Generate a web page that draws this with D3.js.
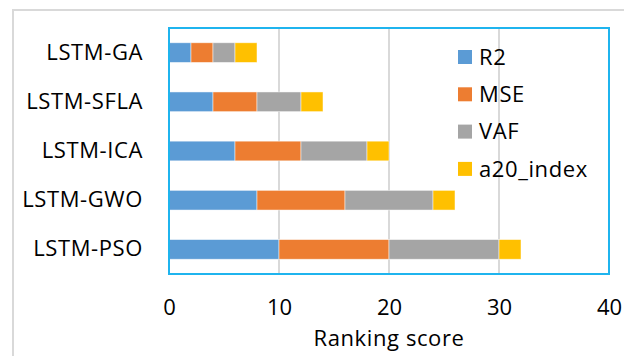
<!DOCTYPE html>
<html>
<head>
<meta charset="utf-8">
<script src="https://cdn.jsdelivr.net/npm/d3@7/dist/d3.min.js"></script>
<style>
  html, body { margin: 0; padding: 0; background: #fff; }
  svg { display: block; }
  text { font-family: "Open Sans", "Noto Sans", sans-serif; fill: #000; }
</style>
</head>
<body>
<svg id="chart" width="624" height="356"></svg>
<script>
// Ranking score components per model
const models = ["LSTM-GA", "LSTM-SFLA", "LSTM-ICA", "LSTM-GWO", "LSTM-PSO"];
const seriesNames = ["R2", "MSE", "VAF", "a20_index"];
const r2 = [2, 4, 6, 8, 10];
const mse = [2, 4, 6, 8, 10];
const vaf = [2, 4, 6, 8, 10];
const a20Index = [2, 2, 2, 2, 2];
const xTicks = [0, 10, 20, 30, 40];
const colors = ["#5b9bd5", "#ed7d31", "#a5a5a5", "#ffc000"];

const rows = models.map((m, i) => ({
  model: m, R2: r2[i], MSE: mse[i], VAF: vaf[i], a20_index: a20Index[i]
}));

const svg = d3.select("#chart");
const fontSize = 22;
const spacing = "0.6px";

// outer chart frame
svg.append("rect")
  .attr("x", 13).attr("y", 10)
  .attr("width", 640).attr("height", 380)
  .attr("fill", "#fff").attr("stroke", "#d9d9d9").attr("stroke-width", 2);

const plot = { left: 169, right: 609, top: 28, bottom: 274 };

const x = d3.scaleLinear().domain([0, 40]).range([plot.left, plot.right]);
const y = d3.scaleBand().domain(models).range([plot.top, plot.bottom]).paddingInner(0.6).paddingOuter(0.3);

// vertical gridlines
svg.append("g")
  .selectAll("line")
  .data(xTicks.slice(1, -1))
  .join("line")
  .attr("x1", d => x(d)).attr("x2", d => x(d))
  .attr("y1", plot.top).attr("y2", plot.bottom)
  .attr("stroke", "#d9d9d9").attr("stroke-width", 2);

// stacked bars
const stack = d3.stack().keys(seriesNames)(rows);
const color = d3.scaleOrdinal().domain(seriesNames).range(colors);

svg.append("g")
  .selectAll("g")
  .data(stack)
  .join("g")
  .attr("fill", d => color(d.key))
  .selectAll("rect")
  .data(d => d)
  .join("rect")
  .attr("x", d => x(d[0]))
  .attr("width", d => x(d[1]) - x(d[0]))
  .attr("y", d => y(d.data.model))
  .attr("height", y.bandwidth())
  .attr("stroke", "#fff").attr("stroke-opacity", 0.6).attr("stroke-width", 0.8);

// plot area border
svg.append("rect")
  .attr("x", plot.left).attr("y", plot.top)
  .attr("width", plot.right - plot.left).attr("height", plot.bottom - plot.top)
  .attr("fill", "none").attr("stroke", "#1fb4ee").attr("stroke-width", 2);

// category axis labels
const yAxis = d3.axisLeft(y).tickSize(0).tickPadding(26);
const gy = svg.append("g").attr("transform", `translate(${plot.left},0)`).call(yAxis);
gy.select(".domain").remove();
gy.selectAll("text")
  .attr("font-size", fontSize).attr("font-family", null).attr("fill", "#000")
  .attr("letter-spacing", spacing);

// value axis labels
const xAxis = d3.axisBottom(x).tickValues(xTicks).tickSize(0).tickPadding(25);
const gx = svg.append("g").attr("transform", `translate(0,${plot.bottom})`).call(xAxis);
gx.select(".domain").remove();
gx.selectAll("text").attr("font-size", fontSize).attr("font-family", null).attr("fill", "#000");

// axis title
svg.append("text")
  .attr("x", x(20)).attr("y", 346)
  .attr("text-anchor", "middle")
  .attr("font-size", fontSize)
  .attr("letter-spacing", spacing)
  .text("Ranking score");

// legend
const legend = svg.append("g")
  .selectAll("g")
  .data(seriesNames)
  .join("g")
  .attr("transform", (d, i) => `translate(458,${57 + i * 37.3})`);
legend.append("rect")
  .attr("x", 0).attr("y", -7).attr("width", 14).attr("height", 14)
  .attr("fill", d => color(d));
legend.append("text")
  .attr("x", 21).attr("y", 0).attr("dy", "0.35em")
  .attr("font-size", fontSize)
  .attr("letter-spacing", spacing)
  .text(d => d);
</script>
</body>
</html>
